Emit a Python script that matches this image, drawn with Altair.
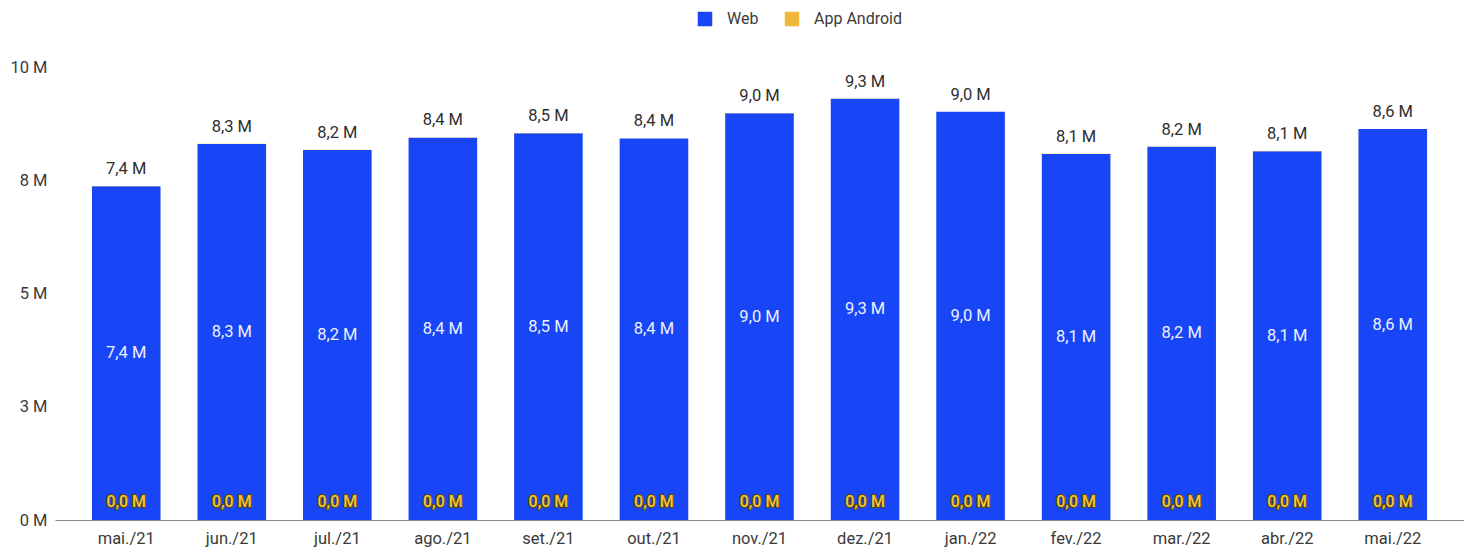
import altair as alt
import pandas as pd

months = ["mai./21", "jun./21", "jul./21", "ago./21", "set./21", "out./21", "nov./21",
          "dez./21", "jan./22", "fev./22", "mar./22", "abr./22", "mai./22"]
web = [7.37, 8.30, 8.17, 8.44, 8.54, 8.42, 8.98, 9.30, 9.01, 8.08, 8.24, 8.14, 8.63]
android = [0.004, 0.004, 0.004, 0.004, 0.004, 0.004, 0.004, 0.004, 0.004, 0.004, 0.004, 0.004, 0.004]
series = ["Web", "App Android"]
colors = ["#1846f6", "#f1b73b"]
y_ticks = [0, 2.5, 5, 7.5, 10]

wide = pd.DataFrame({"month": months, "Web": web, "App Android": android})
wide["total"] = wide["Web"] + wide["App Android"]
wide["mid"] = wide["Web"] / 2
wide["zero"] = 0.0

long = wide.melt(id_vars=["month"], value_vars=series, var_name="series", value_name="value")
long["order"] = long["series"].map({"Web": 0, "App Android": 1})

FONT = "Roboto"
FS = 16.5
fmt = "replace(format(datum.v, '.1f'), '.', ',') + ' M'"

x_axis = alt.Axis(labelAngle=0, ticks=False, tickSize=0, labelPadding=10, labelFontSize=FS,
                  labelColor="#3a3a3a", labelFont=FONT, domainColor="#8a8a8a",
                  domainWidth=1.2, grid=False, title=None)
y_axis = alt.Axis(values=y_ticks, labelExpr="format(datum.value, '.0f') + ' M'",
                  ticks=False, tickSize=0, labelPadding=8, domain=False, grid=False,
                  labelFontSize=FS, labelColor="#3a3a3a", labelFont=FONT, title=None)
x_scale = alt.Scale(paddingInner=0.35, paddingOuter=0.35)
y_scale = alt.Scale(domain=[0, 10], nice=False)

xs = alt.X("month:N", sort=months, title=None, scale=x_scale, axis=x_axis)

bars = alt.Chart(long).mark_bar().encode(
    x=xs,
    y=alt.Y("value:Q", stack="zero", scale=y_scale, title=None, axis=y_axis),
    color=alt.Color("series:N", scale=alt.Scale(domain=series, range=colors),
                    legend=alt.Legend(orient="none", legendX=642, legendY=-56,
                                      direction="horizontal", title=None,
                                      symbolType="square", symbolSize=210,
                                      symbolStrokeWidth=0, labelFontSize=16,
                                      labelColor="#3a3a3a", labelFont=FONT,
                                      labelOffset=14, columnPadding=25)),
    order=alt.Order("order:Q"),
)

base = alt.Chart(wide)

inner = base.transform_calculate(v="datum.Web", lbl=fmt).mark_text(
    color="#eef1ff", fontSize=FS, font=FONT, baseline="middle"
).encode(x=xs, y=alt.Y("mid:Q", scale=y_scale, title=None, axis=y_axis), text="lbl:N")

top = base.transform_calculate(v="datum.total", lbl=fmt).mark_text(
    color="#2e2e2e", fontSize=FS, font=FONT, baseline="bottom", dy=-9
).encode(x=xs, y=alt.Y("total:Q", scale=y_scale, title=None, axis=y_axis), text="lbl:N")

andr_outline = base.transform_calculate(v="datum['App Android']", lbl=fmt).mark_text(
    color="#f1c23f", stroke="#5a4600", strokeWidth=2, fontSize=16, font=FONT,
    fontWeight=500, baseline="middle", dy=-18
).encode(x=xs, y=alt.Y("zero:Q", scale=y_scale, title=None, axis=y_axis), text="lbl:N")

andr_fill = base.transform_calculate(v="datum['App Android']", lbl=fmt).mark_text(
    color="#f3c640", fontSize=16, font=FONT, fontWeight=500, baseline="middle", dy=-18
).encode(x=xs, y=alt.Y("zero:Q", scale=y_scale, title=None, axis=y_axis), text="lbl:N")

chart = alt.layer(bars, inner, top, andr_outline, andr_fill).properties(
    width=1409, height=453,
    autosize=alt.AutoSizeParams(type="none"),
    padding={"left": 47, "top": 59, "right": 0, "bottom": 30},
).configure(background="white").configure_view(
    strokeWidth=0, stroke="transparent"
).configure_axis(grid=False, ticks=False)

chart.save("out.html", embed_options={"renderer": "svg", "actions": False})
